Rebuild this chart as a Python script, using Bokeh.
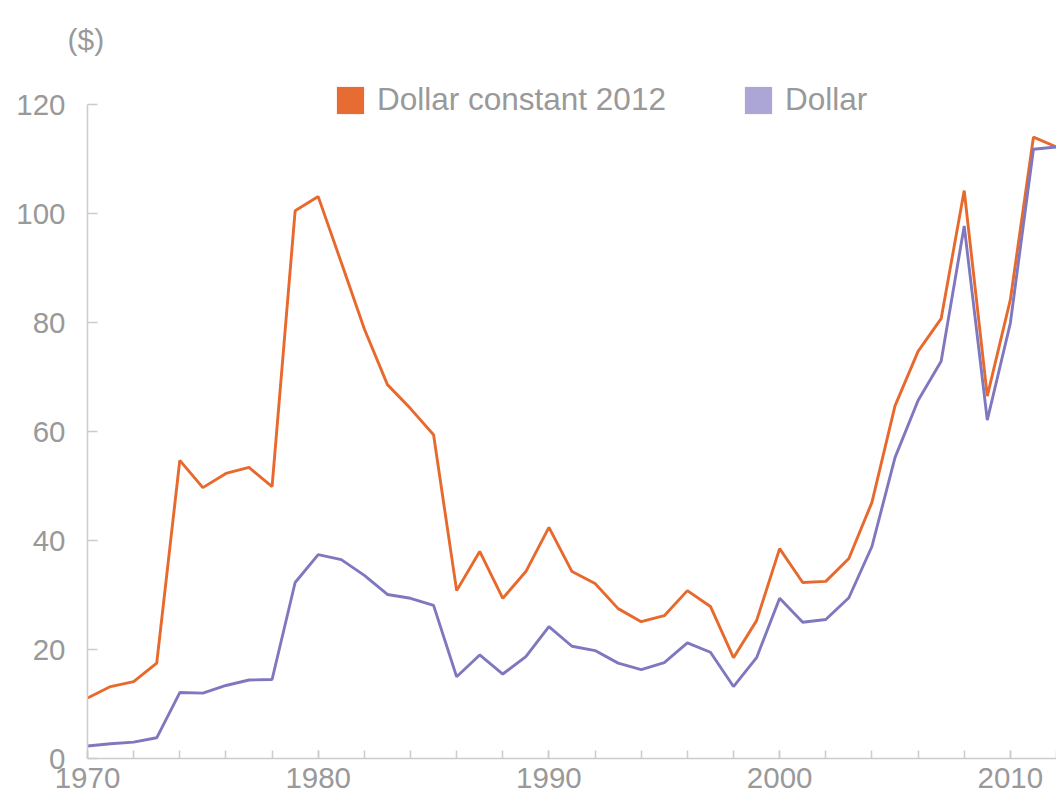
from bokeh.plotting import figure
from bokeh.models import (Range1d, SingleIntervalTicker, Legend, LegendItem, Title,
                          ColumnDataSource, FixedTicker)
from bokeh.embed import file_html
from bokeh.resources import INLINE

years = list(range(1970, 2013))
dollar_2012 = [11.1, 13.2, 14.1, 17.5, 54.7, 49.7, 52.3, 53.4, 49.9, 100.5,
               103.1, 91.0, 78.8, 68.6, 64.2, 59.4, 30.8, 38.0, 29.4, 34.3,
               42.4, 34.3, 32.1, 27.5, 25.1, 26.2, 30.8, 27.9, 18.5, 25.3,
               38.5, 32.3, 32.5, 36.7, 47.0, 64.7, 74.7, 80.7, 104.2, 66.5,
               84.2, 114.0, 112.2]
dollar = [2.3, 2.7, 3.0, 3.8, 12.1, 12.0, 13.4, 14.4, 14.5, 32.3,
          37.4, 36.5, 33.6, 30.1, 29.4, 28.1, 15.0, 19.0, 15.5, 18.7,
          24.2, 20.6, 19.8, 17.5, 16.3, 17.6, 21.2, 19.5, 13.2, 18.5,
          29.4, 25.0, 25.5, 29.5, 38.9, 55.2, 65.7, 72.9, 97.7, 62.1,
          79.9, 111.8, 112.2]
y_ticks = [0, 20, 40, 60, 80, 100, 120]
series_names = ["Dollar constant 2012", "Dollar"]
unit_label = "($)"

ORANGE = "#e8692d"
PURPLE = "#7f78bf"
ORANGE_SW = "#e66c33"
PURPLE_SW = "#aba6d6"
GREY = "#999999"
AXIS = "#cccccc"
FONT = "Liberation Sans"

# layout: frame from y=FRAME_TOP to y=758 px; value 120 must sit at y=104 px
FRAME_TOP, ZERO_PX, TOP_PX = 58, 758, 104
Y_END = 120 * (ZERO_PX - FRAME_TOP) / (ZERO_PX - TOP_PX)

src = ColumnDataSource(dict(year=years, d2012=dollar_2012, d=dollar))

p = figure(width=1056, height=793, output_backend="svg", toolbar_location=None,
           x_range=Range1d(1970, 2012), y_range=Range1d(0, Y_END),
           min_border_left=87, min_border_right=0, min_border_top=FRAME_TOP,
           min_border_bottom=35)
p.outline_line_color = None
p.xgrid.visible = False
p.ygrid.visible = False
p.background_fill_color = "white"
p.border_fill_color = "white"

l1 = p.line("year", "d2012", source=src, line_color=ORANGE, line_width=2.9)
l2 = p.line("year", "d", source=src, line_color=PURPLE, line_width=2.9)

# zero-area quads: invisible on the plot, only give square legend swatches
sw1 = p.quad(left="year", right="year", top="d2012", bottom="d2012", source=src,
             fill_color=ORANGE_SW, line_color=None)
sw2 = p.quad(left="year", right="year", top="d", bottom="d", source=src,
             fill_color=PURPLE_SW, line_color=None)

for ax in (p.xaxis[0], p.yaxis[0]):
    ax.axis_line_color = AXIS
    ax.axis_line_width = 1.5
    ax.major_tick_line_color = AXIS
    ax.major_tick_line_width = 1.5
    ax.minor_tick_line_color = AXIS
    ax.minor_tick_line_width = 1.5
    ax.major_tick_out = 0
    ax.minor_tick_out = 0
    ax.major_label_text_color = GREY
    ax.major_label_text_font = FONT
    ax.major_label_text_font_size = "29.5px"

p.xaxis.ticker = SingleIntervalTicker(interval=10, num_minor_ticks=5)
p.xaxis.major_tick_in = 8
p.xaxis.minor_tick_in = 8
p.xaxis.major_label_standoff = 9

p.yaxis.ticker = FixedTicker(ticks=y_ticks)
p.yaxis.bounds = (0, 120)
p.yaxis.major_tick_in = 10
p.yaxis.minor_tick_line_color = None
p.yaxis.major_label_standoff = 22

legend = Legend(items=[LegendItem(label=series_names[0], renderers=[sw1]),
                       LegendItem(label=series_names[1], renderers=[sw2])],
                orientation="horizontal", location=(246, 640),
                glyph_width=34, glyph_height=34, label_standoff=10, spacing=75,
                padding=0, margin=0, border_line_color=None,
                background_fill_alpha=0,
                label_text_font=FONT, label_text_font_size="31.5px",
                label_text_color=GREY)
p.add_layout(legend, "center")

p.add_layout(Title(text=unit_label, align="left", offset=-20, standoff=5,
                   text_font=FONT, text_font_size="30px", text_font_style="normal",
                   text_color=GREY), "above")

open("out.html", "w").write(file_html(p, INLINE))
